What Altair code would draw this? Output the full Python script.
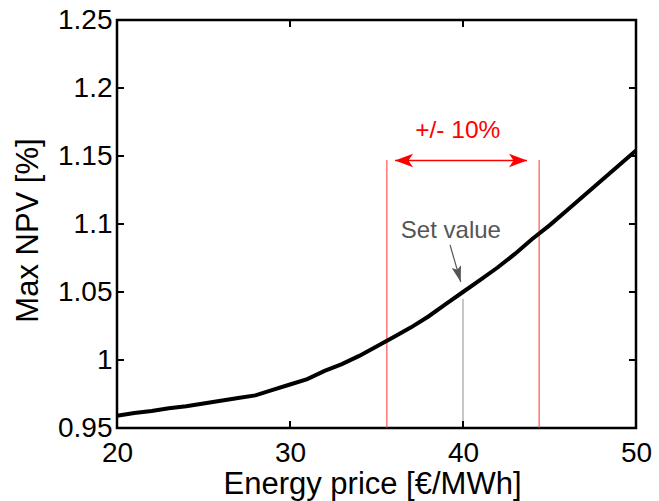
import altair as alt
import pandas as pd

# Curve data
price = [20, 21, 22, 23, 24, 25, 26, 27, 28, 29, 30, 31, 32, 33, 34, 35,
         36, 37, 38, 39, 40, 41, 42, 43, 44, 45, 46, 47, 48, 49, 50]
npv = [0.959, 0.961, 0.9625, 0.9645, 0.966, 0.968, 0.970, 0.972, 0.974,
       0.978, 0.982, 0.986, 0.992, 0.997, 1.003, 1.010, 1.017, 1.024,
       1.032, 1.041, 1.050, 1.059, 1.068, 1.078, 1.089, 1.099, 1.110,
       1.121, 1.132, 1.143, 1.154]

x_ticks = [20, 30, 40, 50]
y_ticks = [0.95, 1.0, 1.05, 1.1, 1.15, 1.2, 1.25]

# Annotations (data coordinates)
band_x = [35.6, 44.4]
band_top = 1.147
set_x = 40
set_top = 1.045
arrow_left = 36.07
arrow_right = 43.7
arrow_y = 1.1466
band_label = "+/- 10%"
band_label_xy = (39.7, 1.163)
set_label = "Set value"
set_label_xy = (39.3, 1.0895)
set_arrow_from = (39.25, 1.0846)
set_arrow_to = (39.87, 1.0574)

X0, X1 = 20, 50
Y0, Y1 = 0.95, 1.25
FONT = "Liberation Sans"

xs = alt.Scale(domain=[X0, X1], nice=False, zero=False)
ys = alt.Scale(domain=[Y0, Y1], nice=False, zero=False)

curve_df = pd.DataFrame({"price": price, "npv": npv})

curve = alt.Chart(curve_df).mark_line(color="black", strokeWidth=4).encode(
    x=alt.X("price:Q", scale=xs,
            axis=alt.Axis(values=x_ticks, title="Energy price [€/MWh]",
                          labelFont=FONT, labelFontSize=28, labelColor="black",
                          labelBaseline="alphabetic", labelPadding=33,
                          titleFont=FONT, titleFontSize=31, titleFontWeight="normal",
                          titleColor="black", titleBaseline="alphabetic",
                          titleX=255, titleY=65, titleAnchor="middle",
                          tickSize=0, domain=False, grid=False, ticks=False,
                          labelFlush=False, labelOverlap=False)),
    y=alt.Y("npv:Q", scale=ys,
            axis=alt.Axis(values=y_ticks, title="Max NPV [%]",
                          labelFont=FONT, labelFontSize=28, labelColor="black",
                          labelPadding=5, labelFlush=False, labelOverlap=False,
                          labelExpr="datum.value == 1 ? '1' : format(datum.value, '.3~f')",
                          titleFont=FONT, titleFontSize=31, titleFontWeight="normal",
                          titleColor="black", titleBaseline="alphabetic",
                          titleAngle=270, titleX=-80, titleY=210,
                          titleAnchor="middle",
                          tickSize=0, domain=False, grid=False, ticks=False)),
)

band_df = pd.DataFrame({"x": band_x, "y": [Y0] * 2, "y2": [band_top] * 2})
band = alt.Chart(band_df).mark_rule(color="#ff3030", strokeWidth=1).encode(
    x=alt.X("x:Q", scale=xs), y=alt.Y("y:Q", scale=ys), y2="y2:Q")

set_df = pd.DataFrame({"x": [set_x], "y": [Y0], "y2": [set_top]})
set_line = alt.Chart(set_df).mark_rule(color="#909090", strokeWidth=1).encode(
    x=alt.X("x:Q", scale=xs), y=alt.Y("y:Q", scale=ys), y2="y2:Q")

arr_df = pd.DataFrame({"x": [arrow_left], "x2": [arrow_right], "y": [arrow_y]})
arr_line = alt.Chart(arr_df).mark_rule(color="red", strokeWidth=1.5).encode(
    x=alt.X("x:Q", scale=xs), x2="x2:Q", y=alt.Y("y:Q", scale=ys))

head_l = alt.Chart(pd.DataFrame({"x": [arrow_left], "y": [arrow_y]})).mark_point(
    shape="M0,0 L2,-0.75 L1.5,0 L2,0.75 Z", size=324, filled=True,
    color="red", opacity=1, strokeWidth=0).encode(
    x=alt.X("x:Q", scale=xs), y=alt.Y("y:Q", scale=ys))
head_r = alt.Chart(pd.DataFrame({"x": [arrow_right], "y": [arrow_y]})).mark_point(
    shape="M0,0 L-2,-0.75 L-1.5,0 L-2,0.75 Z", size=324, filled=True,
    color="red", opacity=1, strokeWidth=0).encode(
    x=alt.X("x:Q", scale=xs), y=alt.Y("y:Q", scale=ys))

band_text = alt.Chart(pd.DataFrame({"x": [band_label_xy[0]], "y": [band_label_xy[1]],
                                    "t": [band_label]})).mark_text(
    font=FONT, fontSize=24.5, color="red", align="center", baseline="alphabetic").encode(
    x=alt.X("x:Q", scale=xs), y=alt.Y("y:Q", scale=ys), text="t:N")

set_text = alt.Chart(pd.DataFrame({"x": [set_label_xy[0]], "y": [set_label_xy[1]],
                                   "t": [set_label]})).mark_text(
    font=FONT, fontSize=24, color="#555555", align="center", baseline="alphabetic").encode(
    x=alt.X("x:Q", scale=xs), y=alt.Y("y:Q", scale=ys), text="t:N")

sa_df = pd.DataFrame({"x": [set_arrow_from[0]], "y": [set_arrow_from[1]],
                      "x2": [set_arrow_to[0]], "y2": [set_arrow_to[1]]})
set_arrow = alt.Chart(sa_df).mark_rule(color="#555555", strokeWidth=1.2).encode(
    x=alt.X("x:Q", scale=xs), y=alt.Y("y:Q", scale=ys), x2="x2:Q", y2="y2:Q")
set_head = alt.Chart(pd.DataFrame({"x": [set_arrow_to[0]], "y": [set_arrow_to[1]]})).mark_point(
    shape="M0,0 L-0.6,-2 L0,-1.6 L0.6,-2 Z", size=256, filled=True, angle=344,
    color="#555555", opacity=1, strokeWidth=0).encode(
    x=alt.X("x:Q", scale=xs), y=alt.Y("y:Q", scale=ys))

# inward ticks on all four sides
xt_df = pd.DataFrame({"x": x_ticks * 2, "y": [Y0] * 4 + [Y1] * 4})
xt = alt.Chart(xt_df).mark_tick(orient="vertical", size=14, thickness=2,
                                color="black", clip=True, opacity=1).encode(
    x=alt.X("x:Q", scale=xs), y=alt.Y("y:Q", scale=ys))
yt_df = pd.DataFrame({"y": y_ticks * 2, "x": [X0] * 7 + [X1] * 7})
yt = alt.Chart(yt_df).mark_tick(orient="horizontal", size=14, thickness=2,
                                color="black", clip=True, opacity=1).encode(
    x=alt.X("x:Q", scale=xs), y=alt.Y("y:Q", scale=ys))

chart = alt.layer(
    band, set_line, curve, arr_line, head_l, head_r, band_text, set_text,
    set_arrow, set_head, xt, yt
).properties(
    width=519, height=408,
    padding={"left": 117, "top": 20, "right": 23, "bottom": 73},
    autosize=alt.AutoSizeParams(type="none"),
    background="white",
).configure_view(stroke="black", strokeWidth=2.5)

chart.save("out.html", embed_options={"renderer": "svg", "actions": False})
